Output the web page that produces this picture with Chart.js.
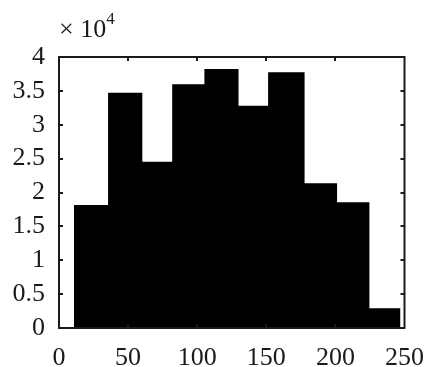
<!DOCTYPE html>
<html>
<head>
<meta charset="utf-8">
<script src="https://cdn.jsdelivr.net/npm/chart.js@4/dist/chart.umd.min.js"></script>
<style>
  html, body { margin: 0; padding: 0; background: #fff; }
  #wrap { width: 431px; height: 367px; }
</style>
</head>
<body>
<div id="wrap"><canvas id="histChart"></canvas></div>
<script>
// bin edges (x) and bin counts
const binEdges = [10.8, 35.5, 60.3, 81.9, 105.2, 129.9, 151.3, 177.7, 201.2, 224.6, 247.1];
const binCounts = [18150, 34730, 24550, 35970, 38230, 32810, 37740, 21360, 18550, 2910];
const xTicks = [0, 50, 100, 150, 200, 250];
const yTicks = [0, 5000, 10000, 15000, 20000, 25000, 30000, 35000, 40000];
const yTickLabels = ["0", "0.5", "1", "1.5", "2", "2.5", "3", "3.5", "4"];
const exponentLabel = "4";

// stepped outline: each edge carries the count of the bin to its right, last edge closes the last bin
const steps = binEdges.map((e, i) => ({ x: e, y: binCounts[Math.min(i, binCounts.length - 1)] }));

const serif = "'Liberation Serif', 'Times New Roman', serif";
const ink = "#1a1a1a";

// MATLAB-like box with inward ticks plus the "x 10^4" multiplier
const boxPlugin = {
  id: "boxPlugin",
  afterDraw(chart) {
    const { ctx, chartArea: a, scales } = chart;
    const tl = 4;
    ctx.save();
    ctx.strokeStyle = ink;
    ctx.lineWidth = 2;
    ctx.strokeRect(a.left, a.top, a.right - a.left, a.bottom - a.top);
    ctx.beginPath();
    yTicks.slice(1, -1).forEach(v => {
      const y = Math.round(scales.y.getPixelForValue(v));
      ctx.moveTo(a.left, y); ctx.lineTo(a.left + tl, y);
      ctx.moveTo(a.right, y); ctx.lineTo(a.right - tl, y);
    });
    xTicks.slice(1, -1).forEach(v => {
      const x = Math.round(scales.x.getPixelForValue(v));
      ctx.moveTo(x, a.bottom); ctx.lineTo(x, a.bottom - tl);
      ctx.moveTo(x, a.top); ctx.lineTo(x, a.top + tl);
    });
    ctx.stroke();

    ctx.fillStyle = ink;
    ctx.textBaseline = "alphabetic";
    ctx.textAlign = "left";
    ctx.font = "26px " + serif;
    const base = "\u00d7 10";
    ctx.fillText(base, a.left, 37);
    const w = ctx.measureText(base).width;
    ctx.font = "17px " + serif;
    ctx.fillText(exponentLabel, a.left + w, 24);
    ctx.restore();
  }
};

new Chart(document.getElementById("histChart"), {
  type: "line",
  data: {
    datasets: [{
      data: steps,
      stepped: true,
      fill: "origin",
      backgroundColor: "#000",
      borderColor: "#000",
      borderWidth: 0,
      pointRadius: 0,
      tension: 0
    }]
  },
  options: {
    responsive: true,
    maintainAspectRatio: false,
    animation: false,
    layout: { padding: { top: 57, right: 25, left: 0, bottom: 0 } },
    plugins: { legend: { display: false }, tooltip: { enabled: false } },
    scales: {
      x: {
        type: "linear",
        min: 0,
        max: 250,
        afterBuildTicks: s => { s.ticks = xTicks.map(v => ({ value: v })); },
        afterFit: s => { s.height = 39; },
        grid: { display: false },
        border: { display: false },
        ticks: { color: ink, padding: 7, maxRotation: 0, autoSkip: false, font: { family: serif, size: 26 } }
      },
      y: {
        min: 0,
        max: 40000,
        afterBuildTicks: s => { s.ticks = yTicks.map(v => ({ value: v })); },
        afterFit: s => { s.width = 59; },
        grid: { display: false },
        border: { display: false },
        ticks: {
          color: ink,
          padding: 6,
          autoSkip: false,
          font: { family: serif, size: 26 },
          callback: v => yTickLabels[yTicks.indexOf(v)]
        }
      }
    }
  },
  plugins: [boxPlugin]
});
</script>
</body>
</html>
